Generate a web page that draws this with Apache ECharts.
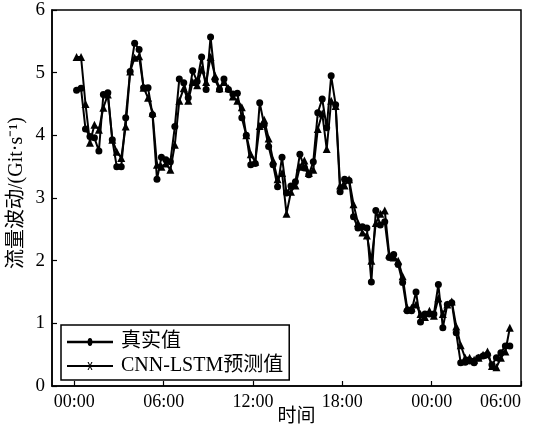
<!DOCTYPE html>
<html>
<head>
<meta charset="utf-8">
<script src="https://cdn.jsdelivr.net/npm/echarts@6/dist/echarts.min.js"></script>
<style>
html,body{margin:0;padding:0;background:#fff;}
#chart{width:534px;height:428px;}
</style>
</head>
<body>
<div id="chart"></div>
<script>
// Sampling: first sample hour and sampling step (hours)
const startHour = 0.15;
const stepHour = 0.3;

const realValues = [
4.72,4.75,4.10,3.98,3.96,3.75,4.65,4.68,3.93,3.50,
3.50,4.28,5.02,5.47,5.37,4.76,4.76,4.33,3.30,3.65,
3.61,3.58,4.14,4.90,4.84,4.60,5.03,4.86,5.25,4.73,
5.57,4.89,4.73,4.90,4.73,4.66,4.67,4.28,4.00,3.53,
3.55,4.52,4.17,3.82,3.53,3.18,3.65,3.08,3.19,3.26,
3.70,3.48,3.37,3.58,4.36,4.58,4.12,4.95,4.49,3.10,
3.30,3.28,2.70,2.52,2.54,2.52,1.66,2.80,2.57,2.62,
2.05,2.10,1.94,1.65,1.20,1.20,1.50,1.02,1.15,1.15,
1.15,1.62,0.93,1.30,1.33,0.85,0.37,0.38,0.40,0.37,
0.45,0.48,0.50,0.34,0.45,0.53,0.64,0.64
];

const predValues = [
5.25,5.25,4.50,3.88,4.17,4.09,4.44,4.65,3.93,3.74,
3.64,4.14,5.02,5.24,5.26,4.76,4.60,4.36,3.53,3.50,
3.55,3.45,3.85,4.55,4.75,4.55,4.85,4.80,5.05,4.85,
5.25,4.95,4.75,4.85,4.75,4.62,4.55,4.45,4.00,3.70,
3.58,4.15,4.25,3.95,3.60,3.30,3.40,2.75,3.10,3.20,
3.50,3.60,3.40,3.45,4.10,4.35,3.78,4.55,4.47,3.20,
3.20,3.30,2.90,2.60,2.45,2.40,2.00,2.60,2.75,2.80,
2.10,2.05,2.00,1.75,1.25,1.25,1.30,1.15,1.10,1.20,
1.12,1.40,1.15,1.30,1.35,0.95,0.65,0.45,0.45,0.42,
0.45,0.50,0.55,0.32,0.30,0.45,0.55,0.93
];

const xTickValues = [0, 6, 12, 18, 24, 30];
const xTickLabels = ['00:00', '06:00', '12:00', '18:00', '00:00', '06:00'];

const seriesNames = ['真实值', 'CNN-LSTM预测值'];
const yAxisName = '流量波动/(Git·s⁻¹)';
const xAxisName = '时间';

const hours = realValues.map((_, i) => startHour + i * stepHour);
const realData = realValues.map((v, i) => [hours[i], v]);
const predData = predValues.map((v, i) => [hours[i], v]);

const serif = '"Liberation Serif","Times New Roman","Noto Sans CJK SC",serif';

const chart = echarts.init(document.getElementById('chart'));
chart.setOption({
  animation: false,
  backgroundColor: '#fff',
  grid: {
    left: 52, right: 13, top: 10, bottom: 42,
    outerBoundsMode: 'none',
    containLabel: false,
    show: true, borderColor: '#000', borderWidth: 1.5, backgroundColor: 'transparent'
  },
  legend: {
    orient: 'vertical',
    left: 61, top: 325,
    borderColor: '#000', borderWidth: 1.5,
    padding: [7, 6, 4, 6],
    itemGap: 4,
    itemWidth: 46, itemHeight: 8,
    symbolKeepAspect: false,
    textStyle: { fontFamily: serif, fontSize: 20, color: '#000', padding: [0, 0, 0, 3] },
    data: [
      { name: seriesNames[0], icon: 'path://M0,3.3H46V4.7H0Z M23,1.6A2.4,2.4 0 1,1 22.99,1.6Z' },
      { name: seriesNames[1], icon: 'path://M0,3.4H46V4.6H0Z M20.5,1.5L21.6,1.5L25.5,6.5L24.4,6.5Z M24.4,1.5L25.5,1.5L21.6,6.5L20.5,6.5Z' }
    ]
  },
  xAxis: {
    type: 'value',
    min: -1.5, max: 30,
    name: xAxisName,
    nameLocation: 'middle',
    nameGap: 22,
    nameMoveOverlap: false,
    nameTextStyle: { fontFamily: serif, fontSize: 19, color: '#000', padding: [0, 0, 0, 20] },
    axisLine: { onZero: false, lineStyle: { color: '#000', width: 1.5 } },
    axisTick: { inside: true, length: 5, customValues: xTickValues, lineStyle: { color: '#000', width: 1.2 } },
    axisLabel: {
      customValues: xTickValues,
      formatter: v => xTickLabels[xTickValues.indexOf(v)],
      fontFamily: serif, fontSize: 18, color: '#000', margin: 7,
      alignMaxLabel: 'right'
    },
    splitLine: { show: false }
  },
  yAxis: {
    type: 'value',
    min: 0, max: 6, interval: 1,
    name: yAxisName,
    nameLocation: 'middle',
    nameGap: 25,
    nameMoveOverlap: false,
    nameTextStyle: { fontFamily: serif, fontSize: 20, color: '#000', padding: [0, 0, 0, 10] },
    axisLine: { onZero: false, lineStyle: { color: '#000', width: 1.5 } },
    axisTick: { inside: true, length: 5, lineStyle: { color: '#000', width: 1.2 } },
    axisLabel: { fontFamily: serif, fontSize: 19, color: '#000', margin: 7 },
    splitLine: { show: false }
  },
  series: [
    {
      name: seriesNames[0], type: 'line', data: realData,
      symbol: 'circle', symbolSize: 7, showAllSymbol: true,
      lineStyle: { color: '#000', width: 2 },
      itemStyle: { color: '#000' }
    },
    {
      name: seriesNames[1], type: 'line', data: predData,
      symbol: 'triangle', symbolSize: 8, showAllSymbol: true,
      lineStyle: { color: '#000', width: 2 },
      itemStyle: { color: '#000' }
    }
  ]
});
</script>
</body>
</html>
